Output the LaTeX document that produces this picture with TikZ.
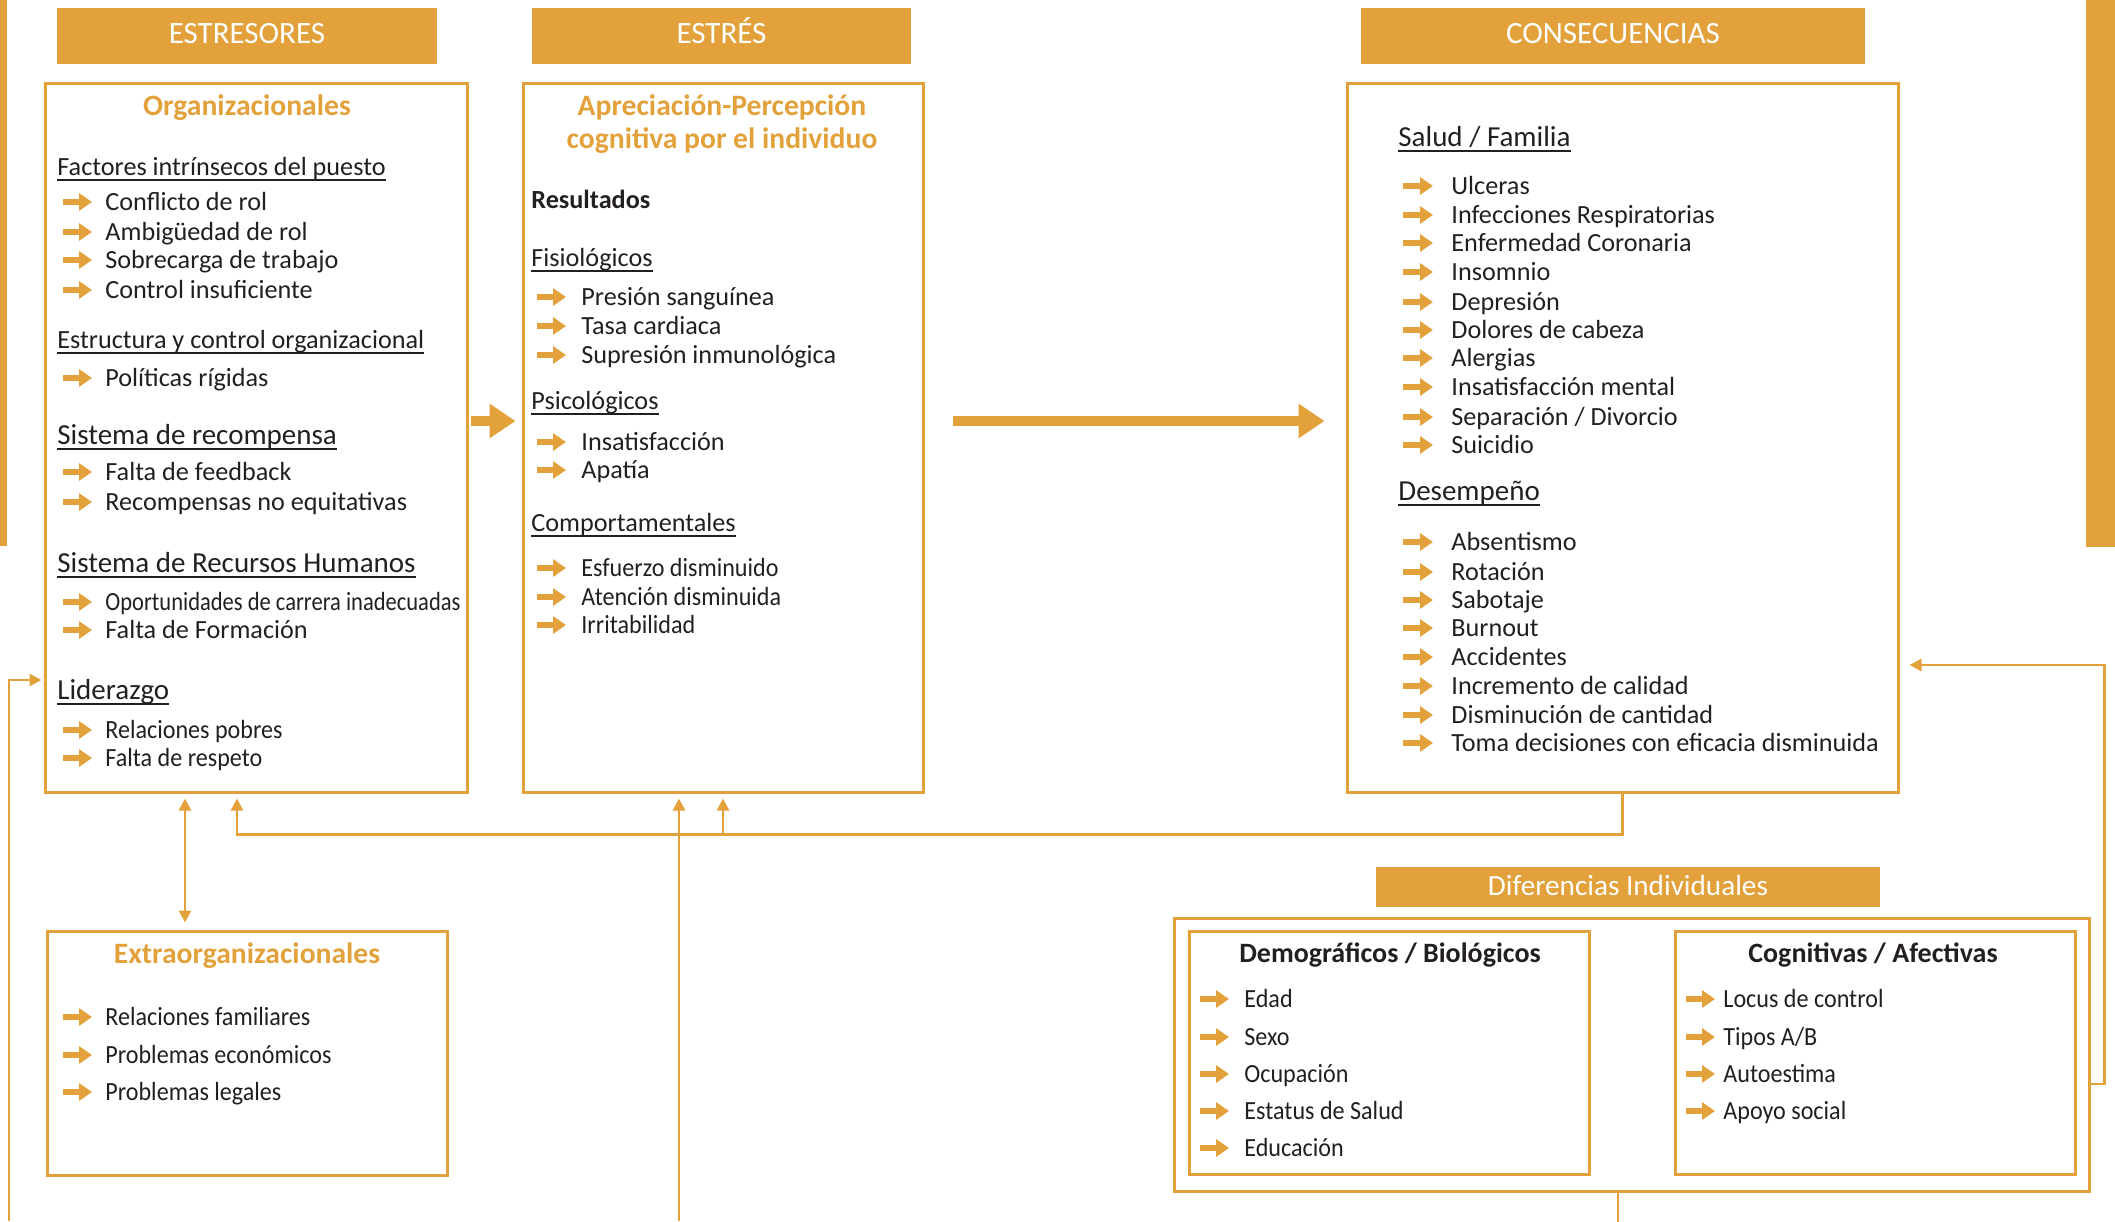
\documentclass[tikz,border=0pt]{standalone}
\usepackage{fontspec}
\setmainfont{Carlito}
\usepackage{graphicx}
\usetikzlibrary{arrows.meta}
\definecolor{naranja}{RGB}{227,161,59}
\definecolor{tinta}{RGB}{35,31,32}
\newcommand{\subr}[1]{\setbox0=\hbox{#1}\rlap{\rule[-2.5pt]{\wd0}{0.9pt}}\box0}
\newcommand{\estrecho}[1]{\scalebox{0.92}[1]{#1}}

\begin{document}
\begin{tikzpicture}[x=0.5pt,y=-0.5pt,>={Triangle[length=6pt,width=6pt]},
    font=\fontsize{13.1}{15}\selectfont,
    caja/.style={draw=naranja,line width=1.5pt,inner sep=0pt},
    cabeza/.style={fill=naranja,text=white,inner sep=0pt,minimum height=28pt,text height=11pt,text depth=4pt,font=\fontsize{15.5}{18}\selectfont},
    titulo/.style={text=naranja,inner sep=0pt,align=center,font=\bfseries\fontsize{14.8}{16.5}\selectfont},
    item/.style={anchor=west,inner sep=0pt,text height=9.8pt,text depth=1.3pt,text=tinta},
    sec/.style={item,font=\fontsize{14.5}{17}\selectfont},
    bala/.style={naranja,line width=2.75pt,-{Triangle[length=6.5pt,width=8.5pt]}},
    fb/.style={naranja,line width=1.25pt,->},
    grande/.style={naranja,line width=5pt,-{Triangle[length=13pt,width=16.5pt]}}]
  \tikzstyle{grupo}=[text=tinta,inner sep=0pt,font=\bfseries\fontsize{14}{16}\selectfont]

  \useasboundingbox (0,0) rectangle (2115,1221);
  \fill[naranja] (0,0) rectangle (7,546);
  \fill[naranja] (2086,0) rectangle (2115,547);

  % cabeceras
  \node[cabeza,minimum width=190pt] (estresores) at (247,36) {ESTRESORES};
  \node[cabeza,minimum width=189.5pt] (estres) at (721.5,36) {ESTRÉS};
  \node[cabeza,minimum width=252pt] (consecuencias) at (1613,36) {CONSECUENCIAS};
  \node[cabeza,minimum width=252pt,minimum height=20pt,text height=9.8pt,text depth=1.3pt,font=\fontsize{14.6}{17}\selectfont] (diferencias) at (1628,887) {Diferencias Individuales};

  % cajas
  \node[caja,minimum width=211pt,minimum height=354.5pt] (orgbox) at (256,437.5) {};
  \node[caja,minimum width=200pt,minimum height=354.5pt] (estbox) at (723,437.5) {};
  \node[caja,minimum width=275.5pt,minimum height=354.5pt] (consbox) at (1622.5,437.5) {};
  \node[caja,minimum width=200pt,minimum height=122pt] (extbox) at (247,1053) {};
  \node[caja,minimum width=457.5pt,minimum height=136.5pt] (difbox) at (1631.5,1054.5) {};
  \node[caja,minimum width=200pt,minimum height=121.5pt] (demobox) at (1389,1052.5) {};
  \node[caja,minimum width=200pt,minimum height=121.5pt] (cogbox) at (1875,1052.5) {};

  % estresores organizacionales
  \node[titulo] (org) at (247,108) {Organizacionales};
  \node[item] (hfac) at (57,167) {\subr{Factores intrínsecos del puesto}};
  \foreach \y/\txt [count=\i] in {202/Conflicto de rol,232/Ambigüedad de rol,260/Sobrecarga de trabajo,290/Control insuficiente}
    {\node[item] (fac\i) at (105,\y) {\txt}; \draw[bala] ([xshift=-21pt]fac\i.west) -- ++(29,0);}
  \node[item] (hest) at (57,340) {\subr{Estructura y control organizacional}};
  \node[item] (est1) at (105,378) {Políticas rígidas};
  \draw[bala] ([xshift=-21pt]est1.west) -- ++(29,0);
  \node[sec] (hrec) at (57,436) {\subr{Sistema de recompensa}};
  \foreach \y/\txt [count=\i] in {472/Falta de feedback,502/Recompensas no equitativas}
    {\node[item] (rec\i) at (105,\y) {\txt}; \draw[bala] ([xshift=-21pt]rec\i.west) -- ++(29,0);}
  \node[sec] (hrrhh) at (57,564) {\subr{Sistema de Recursos Humanos}};
  \foreach \y/\txt [count=\i] in {602/{\scalebox{0.86}[1]{Oportunidades de carrera inadecuadas}},630/Falta de Formación}
    {\node[item] (rrhh\i) at (105,\y) {\txt}; \draw[bala] ([xshift=-21pt]rrhh\i.west) -- ++(29,0);}
  \node[sec] (hlid) at (57,691) {\subr{Liderazgo}};
  \foreach \y/\txt [count=\i] in {730/Relaciones pobres,758/Falta de respeto}
    {\node[item] (lid\i) at (105,\y) {\estrecho{\txt}}; \draw[bala] ([xshift=-21pt]lid\i.west) -- ++(29,0);}

  % estres
  \node[titulo] (apre) at (722,124) {Apreciación-Percepción\\cognitiva por el individuo};
  \node[item,font=\bfseries\fontsize{13.1}{15}\selectfont] (res) at (531,200) {Resultados};
  \node[item] (hfis) at (531,258) {\subr{Fisiológicos}};
  \foreach \y/\txt [count=\i] in {297/Presión sanguínea,326/Tasa cardiaca,355/Supresión inmunológica}
    {\node[item] (fis\i) at (581,\y) {\txt}; \draw[bala] ([xshift=-22pt]fis\i.west) -- ++(29,0);}
  \node[item] (hpsi) at (531,401) {\subr{Psicológicos}};
  \foreach \y/\txt [count=\i] in {442/Insatisfacción,470/Apatía}
    {\node[item] (psi\i) at (581,\y) {\txt}; \draw[bala] ([xshift=-22pt]psi\i.west) -- ++(29,0);}
  \node[item] (hcom) at (531,523) {\subr{Comportamentales}};
  \foreach \y/\txt [count=\i] in {568/Esfuerzo disminuido,597/Atención disminuida,625/Irritabilidad}
    {\node[item] (com\i) at (581,\y) {\estrecho{\txt}}; \draw[bala] ([xshift=-22pt]com\i.west) -- ++(29,0);}

  % consecuencias
  \node[sec] (hsal) at (1398,138) {\subr{Salud / Familia}};
  \foreach \y/\txt [count=\i] in {186/Ulceras,215/Infecciones Respiratorias,243/Enfermedad Coronaria,272/Insomnio,302/Depresión,330/Dolores de cabeza,358/Alergias,387/Insatisfacción mental,417/{Separación / Divorcio},445/Suicidio}
    {\node[item] (sal\i) at (1451,\y) {\txt}; \draw[bala] ([xshift=-24pt]sal\i.west) -- ++(30,0);}
  \node[sec] (hdes) at (1398,492) {\subr{Desempeño}};
  \foreach \y/\txt [count=\i] in {542/Absentismo,572/Rotación,600/Sabotaje,628/Burnout,657/Accidentes,686/Incremento de calidad,715/Disminución de cantidad,743/Toma decisiones con eficacia disminuida}
    {\node[item] (des\i) at (1451,\y) {\txt}; \draw[bala] ([xshift=-24pt]des\i.west) -- ++(30,0);}

  % extraorganizacionales
  \node[titulo] (extra) at (247,956) {Extraorganizacionales};
  \foreach \y/\txt [count=\i] in {1017/Relaciones familiares,1055/Problemas económicos,1092/Problemas legales}
    {\node[item] (ext\i) at (105,\y) {\estrecho{\txt}}; \draw[bala] ([xshift=-21pt]ext\i.west) -- ++(29,0);}

  % diferencias individuales
  \node[grupo] (demo) at (1390,955) {Demográficos / Biológicos};
  \foreach \y/\txt [count=\i] in {999/Edad,1037/Sexo,1074/Ocupación,1111/Estatus de Salud,1148/Educación}
    {\node[item] (dem\i) at (1244,\y) {\estrecho{\txt}}; \draw[bala] ([xshift=-22pt]dem\i.west) -- ++(29,0);}
  \node[grupo] (cogn) at (1873,955) {Cognitivas / Afectivas};
  \foreach \y/\txt [count=\i] in {999/Locus de control,1037/{Tipos A/B},1074/Autoestima,1111/Apoyo social}
    {\node[item] (cog\i) at (1723,\y) {\estrecho{\txt}}; \draw[bala] ([xshift=-18.5pt]cog\i.west) -- ++(29,0);}

  % flechas
  \draw[grande,shorten <=1pt,shorten >=3pt] ([yshift=8.25pt]orgbox.east) -- ([yshift=8.25pt]estbox.west);
  \draw[grande,shorten <=14pt,shorten >=10.5pt] ([yshift=8.25pt]estbox.east) -- ([yshift=8.25pt]consbox.west);
  \draw[fb,shorten >=2.5pt] (consbox.south) -- ++(0,41) coordinate (bus) -| ([xshift=-9.5pt]orgbox.south);
  \draw[fb,shorten >=2.5pt] (bus -| estbox.south) -- (estbox.south);
  \draw[fb,<->,shorten <=2.5pt,shorten >=3.5pt] ([xshift=-35.5pt]orgbox.south) -- ([xshift=-35.5pt]orgbox.south |- extbox.north);
  \coordinate (b1) at (679,1221);
  \draw[fb,shorten >=2.5pt] (b1) -- (b1 |- estbox.south);
  \coordinate (b0) at (9,1221);
  \draw[fb,shorten >=1pt] (b0) |- ([yshift=-121.25pt]orgbox.west);
  \draw[fb,shorten >=5pt] ([yshift=-14.75pt]difbox.east) -- ++(14,0) |- ([yshift=-113.75pt]consbox.east);
  \draw[naranja,line width=1.25pt] ([xshift=-6.75pt]difbox.south) -- ++(0,30);
\end{tikzpicture}
\end{document}
